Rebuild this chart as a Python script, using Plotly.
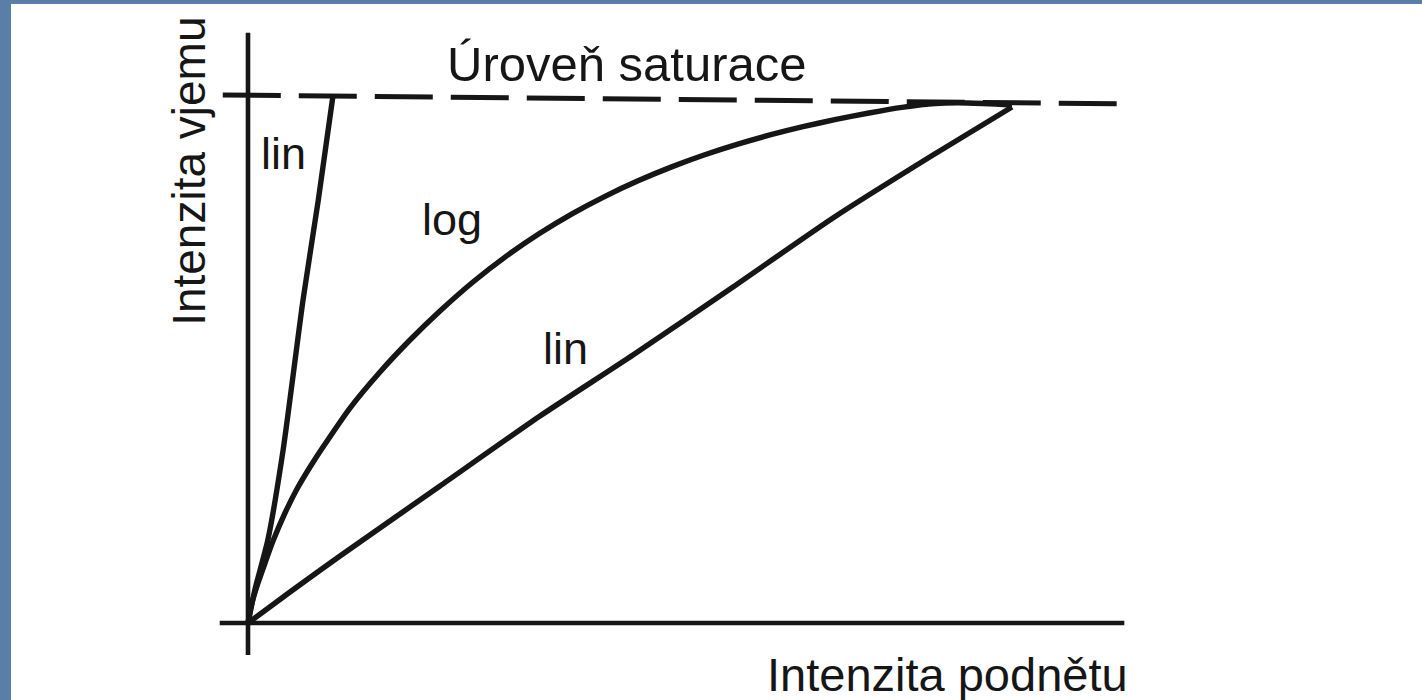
import plotly.graph_objects as go

# ---- data (arbitrary units: stimulus 0..100, response 0..100 = saturation) ----
lin_steep_x = [0, 0.9, 2.6, 4.6, 7.2, 9.2, 11.1]
lin_steep_y = [0, 6.3, 15.8, 32.9, 61.4, 80.4, 100.0]

log_x = [0, 0.52, 1.31, 2.23, 3.27, 4.84, 6.41, 8.12, 9.82, 13.35, 17.28, 21.2, 25.13,
         29.45, 33.77, 38.09, 42.41, 46.73, 51.05, 55.37, 59.69, 64.01, 68.32, 72.64,
         76.96, 81.28, 85.6, 89.92, 94.24, 100.0]
log_y = [0, 3.8, 7.6, 11.41, 15.59, 20.91, 25.48, 29.66, 33.46, 40.87, 47.72, 53.8, 59.32,
         64.83, 69.7, 73.99, 77.78, 81.12, 84.07, 86.67, 88.97, 90.99, 92.78, 94.35,
         95.74, 96.96, 98.04, 98.76, 98.86, 98.5]

lin_x = [0, 5.5, 12.04, 25.13, 38.22, 50.39, 63.48, 76.57, 89.66, 100.0]
lin_y = [0, 5.89, 12.74, 26.05, 39.35, 50.95, 63.88, 77.0, 88.97, 98.1]

sat_x = [-3.3, 113.7]
sat_y = [100.4, 98.7]

yaxis_x = [0, 0]
yaxis_y = [-6.1, 112.2]
xaxis_x = [-3.7, 114.7]
xaxis_y = [0, 0]

title_sat = "Úroveň saturace"
x_label = "Intenzita podnětu"
y_label = "Intenzita vjemu"
curve_labels = ["lin", "log", "lin"]
curve_label_x = [4.65, 26.7, 41.5]
curve_label_y = [89.2, 76.8, 52.1]

INK = "#161616"
FONT = "Liberation Sans, Arial, sans-serif"

fig = go.Figure()

def add_line(x, y, width=5.4, dash=None):
    fig.add_trace(go.Scatter(
        x=x, y=y, mode="lines",
        line=dict(color=INK, width=width, dash=dash, shape="spline", smoothing=0.6),
        hoverinfo="skip", showlegend=False))

# axes drawn as lines
add_line(yaxis_x, yaxis_y, width=4.6)
add_line(xaxis_x, xaxis_y, width=4.6)
# saturation level
add_line(sat_x, sat_y, width=5.0, dash="58px,18px")
# curves
add_line(lin_steep_x, lin_steep_y)
add_line(log_x, log_y)
add_line(lin_x, lin_y)

ann = []
for t, ax_, ay_ in zip(curve_labels, curve_label_x, curve_label_y):
    ann.append(dict(x=ax_, y=ay_, xref="x", yref="y", text=t, showarrow=False,
                    font=dict(family=FONT, size=45, color=INK),
                    xanchor="center", yanchor="middle"))
ann.append(dict(x=49.6, y=106.3, xref="x", yref="y", text=title_sat, showarrow=False,
                font=dict(family=FONT, size=49, color=INK),
                xanchor="center", yanchor="middle"))
ann.append(dict(x=91.6, y=-9.7, xref="x", yref="y", text=x_label, showarrow=False,
                font=dict(family=FONT, size=47, color=INK),
                xanchor="center", yanchor="middle"))
ann.append(dict(x=-7.7, y=85.8, xref="x", yref="y", text=y_label, showarrow=False,
                textangle=-90,
                font=dict(family=FONT, size=46, color=INK),
                xanchor="center", yanchor="middle"))

shapes = [
    dict(type="rect", xref="paper", yref="paper", x0=0, x1=11 / 1422, y0=0, y1=1,
         fillcolor="#5b7ea9", line=dict(width=0), layer="above"),
    dict(type="rect", xref="paper", yref="paper", x0=0, x1=1, y0=1 - 4 / 700, y1=1,
         fillcolor="#5b7ea9", line=dict(width=0), layer="above"),
]

fig.update_layout(
    width=1422, height=700,
    margin=dict(l=0, r=0, t=0, b=0),
    paper_bgcolor="white", plot_bgcolor="white",
    xaxis=dict(visible=False, range=[-248 / 7.64, 1174 / 7.64], fixedrange=True),
    yaxis=dict(visible=False, range=[-77 / 5.26, 623 / 5.26], fixedrange=True),
    annotations=ann, shapes=shapes, showlegend=False,
)

fig.write_html("out.html", config={"displayModeBar": False},
               post_script="document.body.style.margin='0';document.body.style.overflow='hidden';")
